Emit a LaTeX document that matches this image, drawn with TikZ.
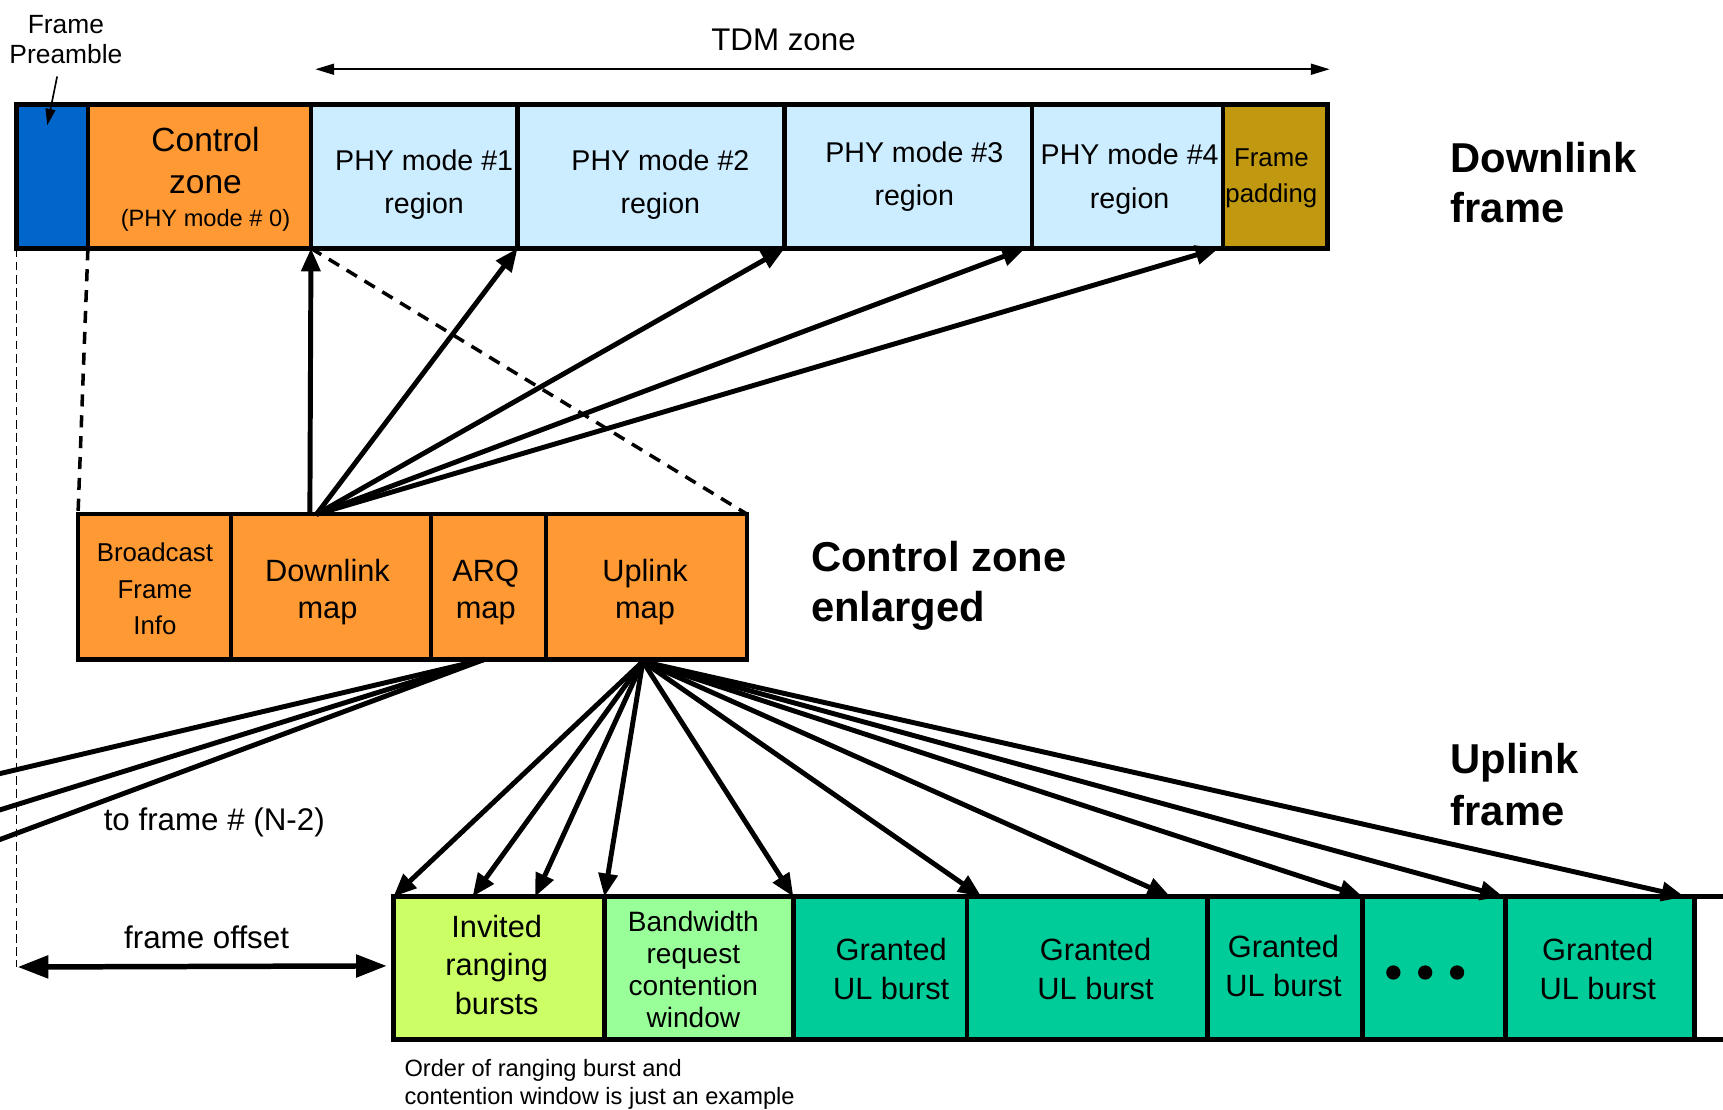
\documentclass[tikz,border=0pt]{standalone}
\usepackage{fontspec}
\setmainfont{Liberation Sans}
\usetikzlibrary{arrows.meta}
\newcommand\setfs[2]{\fontsize{#1}{#2}\selectfont}
\definecolor{preblue}{RGB}{0,102,204}
\definecolor{ctlorange}{RGB}{255,153,51}
\definecolor{phyblue}{RGB}{204,236,255}
\definecolor{padgold}{RGB}{192,153,16}
\definecolor{rangegreen}{RGB}{204,255,102}
\definecolor{bwgreen}{RGB}{153,255,153}
\definecolor{ulgreen}{RGB}{0,204,153}

\begin{document}
\begin{tikzpicture}[x=1pt,y=-1pt,
  box/.style={draw=black, line width=4pt, inner sep=0pt, outer sep=0pt, anchor=north west},
  lbl/.style={inner sep=0pt, align=center},
  heading/.style={inner sep=0pt, align=left, anchor=west, font=\bfseries\setfs{38}{46}},
  bigarrow/.style={line width=4.5pt, -{Triangle[length=21pt,width=17pt]}},
  fanline/.style={line width=4.5pt},
  thinarrow/.style={line width=1.5pt, -{Triangle[length=15pt,width=9pt]}},
  offarrow/.style={line width=5pt, {Triangle[length=28pt,width=20pt]}-{Triangle[length=28pt,width=20pt]}},
  dashline/.style={line width=3.2pt, dash pattern=on 11pt off 8pt},
  guide/.style={line width=1pt, dash pattern=on 8pt off 4pt},
]
\useasboundingbox (0,0) rectangle (1568,1010);
\clip (0,0) rectangle (1568,1010);

% ---------- downlink frame ----------
\node[box, fill=preblue,   minimum width=65pt,  minimum height=131pt] (pre)  at (15,95) {};
\node[box, fill=ctlorange, minimum width=203pt, minimum height=131pt] (ctl)  at (80,95) {};
\node[box, fill=phyblue,   minimum width=188pt, minimum height=131pt] (phy1) at (283,95) {};
\node[box, fill=phyblue,   minimum width=243pt, minimum height=131pt] (phy2) at (471,95) {};
\node[box, fill=phyblue,   minimum width=225pt, minimum height=131pt] (phy3) at (714,95) {};
\node[box, fill=phyblue,   minimum width=174pt, minimum height=131pt] (phy4) at (939,95) {};
\node[box, fill=padgold,   minimum width=95pt,  minimum height=131pt] (pad)  at (1113,95) {};

\node[lbl, font=\setfs{30.5}{38}] (ctlt)  at (187,146) {Control\\zone};
\node[lbl, font=\setfs{21.5}{26}] (ctlp)  at (187,201) {(PHY mode \# 0)};
\node[lbl, font=\setfs{26}{39}]   (phy1t) at (386,168) {PHY mode \#1\\region};
\node[lbl, font=\setfs{26}{39}]   (phy2t) at (601,168) {PHY mode \#2\\region};
\node[lbl, font=\setfs{26}{39}]   (phy3t) at (832,161) {PHY mode \#3\\region};
\node[lbl, font=\setfs{26}{40}]   (phy4t) at (1028,163) {PHY mode \#4\\region};
\node[lbl, font=\setfs{23.5}{33}] (padt)  at (1157,162) {Frame\\padding};

\node[lbl, font=\setfs{24}{28}] (fpt) at (60,36) {Frame\\Preamble};
\node[lbl, font=\setfs{28.5}{32}] (tdmt) at (713,36) {TDM zone};
\coordinate (tdml) at (287,63);
\coordinate (tdmr) at (1210,63);

\node[heading] (dlft) at (1320,166) {Downlink\\frame};

% ---------- control zone enlarged ----------
\node[box, fill=ctlorange, minimum width=139pt, minimum height=132pt] (bfi) at (71,468) {};
\node[box, fill=ctlorange, minimum width=182pt, minimum height=132pt] (dlm) at (210,468) {};
\node[box, fill=ctlorange, minimum width=105pt, minimum height=132pt] (arq) at (392,468) {};
\node[box, fill=ctlorange, minimum width=183pt, minimum height=132pt] (upm) at (497,468) {};

\node[lbl, font=\setfs{23.5}{33}] (bfit) at (141,536) {Broadcast\\Frame\\Info};
\node[lbl, font=\setfs{28}{34}]   (dlmt) at (298,539) {Downlink\\map};
\node[lbl, font=\setfs{28}{34}]   (arqt) at (442,539) {ARQ\\map};
\node[lbl, font=\setfs{28}{34}]   (upmt) at (587,539) {Uplink\\map};

\node[heading] (czet) at (738,533) {Control zone\\enlarged};

% ---------- uplink frame ----------
\node[box, fill=rangegreen, minimum width=192pt, minimum height=130pt] (inv)  at (358,816) {};
\node[box, fill=bwgreen,    minimum width=172pt, minimum height=130pt] (bw)   at (550,816) {};
\node[box, fill=ulgreen,    minimum width=158pt, minimum height=130pt] (g1)   at (722,816) {};
\node[box, fill=ulgreen,    minimum width=219pt, minimum height=130pt] (g2)   at (880,816) {};
\node[box, fill=ulgreen,    minimum width=141pt, minimum height=130pt] (g3)   at (1099,816) {};
\node[box, fill=ulgreen,    minimum width=130pt, minimum height=130pt] (dots) at (1240,816) {};
\node[box, fill=ulgreen,    minimum width=172pt, minimum height=130pt] (g4)   at (1370,816) {};
\node[box, fill=white,      minimum width=80pt,  minimum height=130pt] (gnext) at (1542,816) {};

\node[lbl, font=\setfs{28}{35}]   (invt) at (452,878) {Invited\\ranging\\bursts};
\node[lbl, font=\setfs{25.5}{29}] (bwt)  at (631,882) {Bandwidth\\request\\contention\\window};
\node[lbl, font=\setfs{28}{35}]   (g1t)  at (811,882) {Granted\\UL burst};
\node[lbl, font=\setfs{28}{35}]   (g2t)  at (997,882) {Granted\\UL burst};
\node[lbl, font=\setfs{28}{35}]   (g3t)  at (1168,879) {Granted\\UL burst};
\node[lbl, font=\setfs{28}{35}]   (g4t)  at (1454,882) {Granted\\UL burst};
\fill (1268,885) circle (6.5pt) (1297,885) circle (6.5pt) (1326,885) circle (6.5pt);

\node[heading, font=\bfseries\setfs{38}{47}] (ulft) at (1320,714) {Uplink\\frame};

\node[lbl, font=\setfs{28.5}{32}] (tfn) at (195,748) {to frame \# (N-2)};
\node[lbl, font=\setfs{28.5}{32}] (fot) at (188,853) {frame offset};
\node[lbl, align=left, anchor=west, font=\setfs{21.5}{26}] (ordt) at (368,987)
  {Order of ranging burst and\\contention window is just an example};

% ---------- guide and zoom lines ----------
\coordinate (fob) at (15,880);
\draw[guide] (pre.south west) -- (fob);
\draw[dashline] (ctl.south west) -- (bfi.north west);
\draw[dashline] (ctl.south east) -- (upm.north east);

% ---------- top annotations ----------
\draw[thinarrow, {Triangle[length=17pt,width=10pt]}-{Triangle[length=17pt,width=10pt]}] (tdml) -- (tdmr);
\draw[thinarrow] ([xshift=-8pt,yshift=-11pt]fpt.south) -- ([xshift=28pt,yshift=-19pt]pre.north west);

% ---------- downlink map pointers ----------
\coordinate (dlv) at ([xshift=72pt]dlm.north west);
\coordinate (dlo) at ([xshift=78pt]dlm.north west);
\draw[bigarrow] (dlv) -- (ctl.south east);
\draw[bigarrow] (dlo) -- (phy1.south east);
\draw[bigarrow] (dlo) -- (phy2.south east);
\draw[bigarrow] (dlo) -- ([xshift=-6pt]phy3.south east);
\draw[bigarrow] (dlo) -- ([xshift=-4pt]phy4.south east);

% ---------- ARQ map pointers to an earlier frame ----------
\coordinate (arqo) at ([xshift=49pt]arq.south west);
\coordinate (old1) at (-20,708.7);
\coordinate (old2) at (-20,743.2);
\coordinate (old3) at (-20,771.4);
\draw[fanline] (arqo) -- (old1);
\draw[fanline] (arqo) -- (old2);
\draw[fanline] (arqo) -- (old3);

% ---------- uplink map pointers ----------
\coordinate (ulo) at ([xshift=88pt,yshift=-2pt]upm.south west);
\draw[bigarrow] (ulo) -- (inv.north west);
\draw[bigarrow] (ulo) -- ([xshift=72pt]inv.north west);
\draw[bigarrow] (ulo) -- ([xshift=129pt]inv.north west);
\draw[bigarrow] (ulo) -- (inv.north east);
\draw[bigarrow] (ulo) -- (bw.north east);
\draw[bigarrow] (ulo) -- ([xshift=13pt]g2.north west);
\draw[bigarrow] (ulo) -- ([xshift=-34pt]g2.north east);
\draw[bigarrow] (ulo) -- (g3.north east);
\draw[bigarrow] (ulo) -- ([xshift=-2pt]dots.north east);
\draw[bigarrow] (ulo) -- ([xshift=-9pt]g4.north east);

% ---------- frame offset ----------
\draw[offarrow] ([xshift=1pt]fob) -- ([xshift=-6pt,yshift=2pt]inv.west);

\end{tikzpicture}
\end{document}
